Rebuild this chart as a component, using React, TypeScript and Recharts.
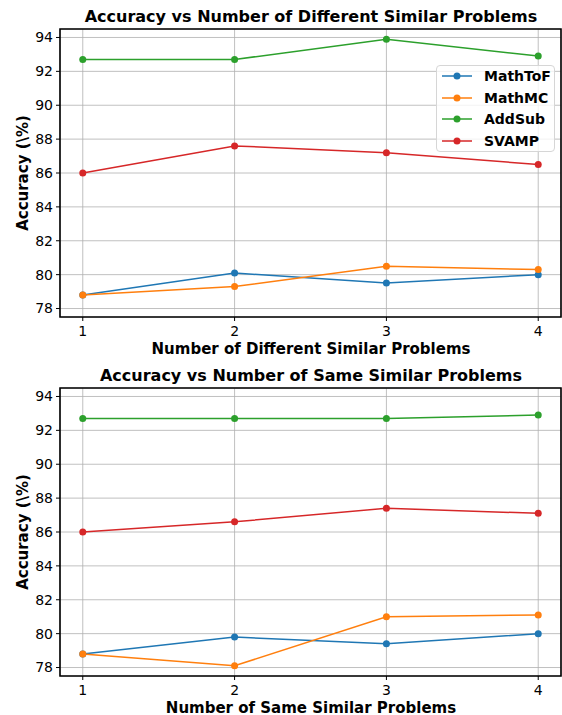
import React from "react";
import {
  LineChart,
  Line,
  XAxis,
  YAxis,
  CartesianGrid,
  ReferenceArea,
} from "recharts";

// ─── data ────────────────────────────────────────────────────────────────
const X_VALUES = [1, 2, 3, 4];
const Y_TICKS = [78, 80, 82, 84, 86, 88, 90, 92, 94];
const SERIES = ["MathToF", "MathMC", "AddSub", "SVAMP"];
const COLORS = ["#1f77b4", "#ff7f0e", "#2ca02c", "#d62728"];

// different similar problems
const DIFF_MATHTOF = [78.8, 80.1, 79.5, 80.0];
const DIFF_MATHMC = [78.8, 79.3, 80.5, 80.3];
const DIFF_ADDSUB = [92.7, 92.7, 93.9, 92.9];
const DIFF_SVAMP = [86.0, 87.6, 87.2, 86.5];

// same similar problems
const SAME_MATHTOF = [78.8, 79.8, 79.4, 80.0];
const SAME_MATHMC = [78.8, 78.1, 81.0, 81.1];
const SAME_ADDSUB = [92.7, 92.7, 92.7, 92.9];
const SAME_SVAMP = [86.0, 86.6, 87.4, 87.1];

const X_DOMAIN: [number, number] = [0.85, 4.15];
const Y_DOMAIN: [number, number] = [77.5, 94.5];

const FONT = "'DejaVu Sans', sans-serif";

function buildRows(values: number[][]) {
  return X_VALUES.map((x, i) => {
    const row: Record<string, number> = { x };
    SERIES.forEach((s, j) => {
      row[s] = values[j][i];
    });
    return row;
  });
}

const diffRows = buildRows([DIFF_MATHTOF, DIFF_MATHMC, DIFF_ADDSUB, DIFF_SVAMP]);
const sameRows = buildRows([SAME_MATHTOF, SAME_MATHMC, SAME_ADDSUB, SAME_SVAMP]);

// legend drawn by hand so it floats over the plot like matplotlib's "best" spot
function LegendBox() {
  return (
    <div
      style={{
        position: "absolute",
        left: 436,
        top: 65,
        width: 119,
        height: 87,
        boxSizing: "border-box",
        border: "1px solid #d6d6d6",
        borderRadius: 4,
        background: "rgba(255,255,255,0.8)",
        padding: "0 0 0 5px",
        fontFamily: FONT,
        fontWeight: "bold",
        fontSize: 14,
        color: "#000",
      }}
    >
      {SERIES.map((s, i) => (
        <div
          key={s}
          style={{
            position: "absolute",
            left: 5,
            top: 10 + i * 21.7 - 9,
            height: 18,
            display: "flex",
            alignItems: "center",
          }}
        >
          <svg width={30} height={10} style={{ marginRight: 12 }}>
            <line x1={0} y1={5} x2={30} y2={5} stroke={COLORS[i]} strokeWidth={1.5} />
            <circle cx={15} cy={5} r={3.5} fill={COLORS[i]} />
          </svg>
          <span>{s}</span>
        </div>
      ))}
    </div>
  );
}

interface PanelProps {
  rows: Record<string, number>[];
  title: string;
  xLabel: string;
  top: number;
  height: number;
  plotTop: number;
  xAxisHeight: number;
  showLegend?: boolean;
}

function Panel({ rows, title, xLabel, top, height, plotTop, xAxisHeight, showLegend }: PanelProps) {
  const plotBottom = height - xAxisHeight;
  return (
    <div style={{ position: "absolute", left: 0, top, width: 562, height }}>
      <div
        style={{
          position: "absolute",
          left: 60,
          width: 502,
          top: plotTop - 22,
          textAlign: "center",
          whiteSpace: "nowrap",
          fontFamily: FONT,
          fontWeight: "bold",
          fontSize: 16,
          lineHeight: "20px",
        }}
      >
        {title}
      </div>
      <LineChart
        width={562}
        height={height}
        data={rows}
        margin={{ top: plotTop, right: 1, bottom: 0, left: 0 }}
      >
        <CartesianGrid stroke="#b0b0b0" strokeWidth={0.8} />
        <XAxis
          dataKey="x"
          type="number"
          domain={X_DOMAIN}
          ticks={X_VALUES}
          height={xAxisHeight}
          tick={{ fill: "#000", fontSize: 14, fontFamily: FONT }}
          tickSize={4}
          tickMargin={5}
          axisLine={false}
          tickLine={{ stroke: "#000" }}
          allowDataOverflow
        />
        <YAxis
          type="number"
          domain={Y_DOMAIN}
          ticks={Y_TICKS}
          width={60}
          tick={{ fill: "#000", fontSize: 14, fontFamily: FONT }}
          tickSize={4}
          tickMargin={3}
          axisLine={false}
          tickLine={{ stroke: "#000" }}
          allowDataOverflow
        />
        <ReferenceArea
          x1={X_DOMAIN[0]}
          x2={X_DOMAIN[1]}
          y1={Y_DOMAIN[0]}
          y2={Y_DOMAIN[1]}
          fill="none"
          stroke="#000"
          strokeWidth={1.6}
          ifOverflow="visible"
        />
        {SERIES.map((s, i) => (
          <Line
            key={s}
            dataKey={s}
            name={s}
            stroke={COLORS[i]}
            strokeWidth={1.5}
            dot={{ r: 3.5, fill: COLORS[i], stroke: COLORS[i], strokeWidth: 0 }}
            activeDot={false}
            isAnimationActive={false}
          />
        ))}
      </LineChart>
      {showLegend && <LegendBox />}
      <div
        style={{
          position: "absolute",
          left: 23,
          top: (plotTop + plotBottom) / 2,
          transform: "translate(-50%, -50%) rotate(-90deg)",
          whiteSpace: "nowrap",
          fontFamily: FONT,
          fontWeight: "bold",
          fontSize: 15,
          lineHeight: "18px",
        }}
      >
        Accuracy (\%)
      </div>
      <div
        style={{
          position: "absolute",
          left: 60,
          width: 502,
          top: plotBottom + 22.5,
          textAlign: "center",
          whiteSpace: "nowrap",
          fontFamily: FONT,
          fontWeight: "bold",
          fontSize: 15,
          lineHeight: "18px",
        }}
      >
        {xLabel}
      </div>
    </div>
  );
}

export default function App() {
  return (
    <div style={{ position: "relative", width: 562, height: 715, background: "#fff", overflow: "hidden" }}>
      <style>{`body{margin:0}`}</style>
      <Panel
        rows={diffRows}
        title="Accuracy vs Number of Different Similar Problems"
        xLabel="Number of Different Similar Problems"
        top={0}
        height={360}
        plotTop={29}
        xAxisHeight={43}
        showLegend
      />
      <Panel
        rows={sameRows}
        title="Accuracy vs Number of Same Similar Problems"
        xLabel="Number of Same Similar Problems"
        top={360}
        height={355}
        plotTop={28}
        xAxisHeight={39}
      />
    </div>
  );
}
